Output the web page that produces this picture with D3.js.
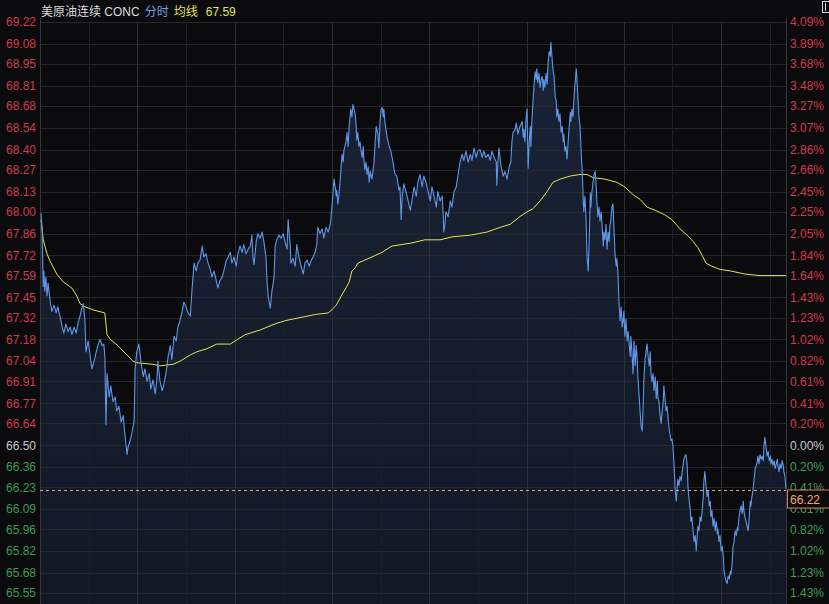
<!DOCTYPE html>
<html><head><meta charset="utf-8">
<script src="https://cdn.jsdelivr.net/npm/d3@7"></script>
<style>
html,body{margin:0;padding:0;background:#0b0b0d;overflow:hidden;}
svg{display:block;}
text{font-family:"Liberation Sans",Arial,"Noto Sans CJK SC",sans-serif;}
</style></head><body>
<svg id="chart" width="829" height="604"></svg>
<script>
// ---------- data ----------
const titleName = "美原油连续 CONC";
const titleMode = "分时";
const titleAvgLabel = "均线";
const avgLast = 67.59;
const prevClose = 66.50;
const lastPrice = 66.22;
const sessionMinutes = 1380;   // 23-hour session
const gridMinutes = 90;

const priceTicks = [69.22,69.08,68.95,68.81,68.68,68.54,68.40,68.27,68.13,68.00,67.86,67.72,67.59,67.45,67.32,67.18,67.04,66.91,66.77,66.64,66.50,66.36,66.23,66.09,65.96,65.82,65.68,65.55];
const pctLabels = ["4.09%","3.89%","3.68%","3.48%","3.27%","3.07%","2.86%","2.66%","2.45%","2.25%","2.05%","1.84%","1.64%","1.43%","1.23%","1.02%","0.82%","0.61%","0.41%","0.20%","0.00%","0.20%","0.41%","0.61%","0.82%","1.02%","1.23%","1.43%"];

// [minute of session, price]
const priceSeries = [
[2,67.99],[4,67.87],[6,67.52],[7,67.62],[9,67.49],[11,67.58],[13,67.46],[15,67.54],[19,67.42],[22,67.36],[26,67.40],[30,67.35],[33,67.39],[37,67.33],[41,67.26],[44,67.22],[48,67.28],[52,67.23],[56,67.26],[59,67.21],[63,67.26],[67,67.22],[70,67.28],[74,67.33],[78,67.39],[80,67.41],[83,67.31],[85,67.10],[89,67.17],[93,67.07],[96,66.99],[100,67.04],[104,67.10],[107,67.14],[111,67.18],[115,67.14],[118,67.15],[120,67.07],[122,66.63],[124,66.96],[128,66.81],[131,66.88],[135,66.78],[139,66.81],[142,66.72],[146,66.75],[150,66.65],[154,66.69],[157,66.57],[161,66.44],[163,66.49],[167,66.53],[170,66.58],[174,66.65],[176,66.99],[179,67.10],[183,67.15],[187,67.03],[191,66.94],[194,66.99],[198,66.91],[202,66.96],[205,66.86],[209,66.92],[213,66.83],[216,66.91],[218,67.04],[222,66.91],[226,66.85],[229,66.89],[233,66.96],[237,67.07],[241,67.14],[244,67.05],[248,67.20],[252,67.17],[255,67.26],[259,67.30],[263,67.36],[266,67.42],[270,67.39],[274,67.35],[278,67.33],[281,67.49],[283,67.58],[285,67.67],[289,67.62],[292,67.67],[296,67.69],[300,67.78],[303,67.71],[307,67.73],[311,67.67],[315,67.63],[318,67.58],[322,67.62],[326,67.56],[329,67.51],[333,67.56],[337,67.58],[340,67.62],[344,67.68],[348,67.71],[352,67.74],
[355,67.67],[359,67.71],[363,67.65],[366,67.73],[370,67.78],[374,67.74],[377,67.79],[381,67.73],[385,67.76],[389,67.78],[392,67.85],[394,67.71],[396,67.66],[400,67.81],[403,67.86],[407,67.83],[411,67.87],[414,67.81],[418,67.71],[420,67.55],[422,67.46],[426,67.38],[429,67.49],[433,67.58],[435,67.78],[438,67.82],[442,67.85],[446,67.83],[450,67.86],[453,67.81],[457,67.76],[459,67.95],[463,67.78],[464,67.67],[468,67.70],[472,67.65],[474,67.74],[475,67.79],[479,67.71],[483,67.65],[487,67.60],[490,67.67],[494,67.69],[498,67.65],[501,67.68],[505,67.71],[509,67.74],[512,67.79],[514,67.90],[518,67.86],[522,67.89],[525,67.83],[529,67.90],[533,67.87],[537,67.92],[538,67.95],[540,68.03],[542,68.13],[544,68.21],[546,68.16],[548,68.10],[549,68.14],[551,68.05],[553,68.11],[555,68.19],[557,68.29],[559,68.37],[561,68.32],[562,68.39],[566,68.45],[568,68.51],[570,68.42],[572,68.55],[574,68.63],[575,68.66],[577,68.61],[579,68.69],[581,68.66],[583,68.63],[585,68.55],[586,68.46],[588,68.51],[590,68.42],[592,68.45],[594,68.39],[596,68.35],[598,68.42],[599,68.34],[601,68.27],[603,68.32],[605,68.24],[607,68.29],[609,68.19],[611,68.26],[614,68.21],[618,68.32],[620,68.45],[622,68.55],[625,68.50],[627,68.41],[629,68.58],[631,68.66],[633,68.67],[635,68.61],[636,68.66],[638,68.58],[640,68.53],[642,68.48],[646,68.42],[649,68.39],[653,68.32],[655,68.27],[657,68.24],[660,68.23],[664,68.14],[666,68.16],[668,67.95],[670,68.10],[673,68.18],[677,68.13],[681,68.07],[685,68.01],[688,68.07],[692,68.16],[696,68.10],[699,68.19],[703,68.24],[707,68.16],[710,68.23],[714,68.19],[718,68.13],[722,68.07],[725,68.16],[729,68.10],[733,68.03],[736,68.13],[740,68.07],
[744,68.10],[746,67.97],[747,67.87],[749,67.92],[751,68.00],[755,67.97],[759,68.07],[762,68.03],[766,68.13],[770,68.16],[773,68.23],[777,68.32],[781,68.37],[784,68.33],[788,68.39],[792,68.32],[796,68.37],[799,68.33],[803,68.41],[807,68.35],[810,68.39],[814,68.40],[818,68.35],[821,68.39],[825,68.35],[829,68.37],[833,68.33],[836,68.39],[840,68.35],[844,68.32],[845,68.17],[847,68.32],[849,68.41],[853,68.29],[857,68.23],[860,68.26],[864,68.21],[868,68.29],[871,68.32],[873,68.45],[875,68.51],[879,68.53],[881,68.57],[884,68.50],
[888,68.55],[892,68.58],[894,68.48],[895,68.53],[897,68.45],[899,68.59],[901,68.66],[903,68.28],[905,68.45],[907,68.55],[908,68.42],[910,68.59],[912,68.71],[914,68.82],[916,68.90],[918,68.85],[919,68.92],[921,68.83],[923,68.89],[925,68.80],[927,68.85],[929,68.87],[931,68.78],[932,68.85],[934,68.80],[936,68.89],[938,68.82],[940,68.96],[942,69.03],[944,69.00],[945,69.09],[947,69.00],[949,68.91],[951,68.87],[953,68.74],[955,68.71],[956,68.61],[958,68.66],[960,68.58],[962,68.63],[964,68.51],[966,68.55],[968,68.45],[969,68.50],[971,68.39],[973,68.42],[975,68.34],[977,68.45],[979,68.55],[981,68.64],[982,68.58],[984,68.66],[986,68.61],[988,68.74],[990,68.83],[992,68.92],[993,68.87],[995,68.74],[997,68.61],[999,68.55],
[1001,68.39],[1003,68.26],[1005,68.07],[1006,68.00],[1008,68.10],[1010,67.97],[1012,67.71],[1014,67.62],[1016,67.81],[1018,68.12],[1019,68.03],[1021,68.13],[1023,68.19],[1025,68.24],[1027,68.26],[1029,68.16],[1030,68.07],[1032,67.97],[1034,68.03],[1036,67.94],[1038,68.00],[1040,67.90],[1042,67.78],[1043,67.87],[1045,67.82],[1047,67.92],[1049,67.76],[1051,67.87],[1053,67.81],[1054,67.90],[1056,67.95],[1058,68.03],[1060,68.05],[1062,67.87],[1064,67.71],[1066,67.65],[1067,67.70],[1069,67.62],[1071,67.42],[1073,67.30],[1075,67.39],[1077,67.26],[1079,67.31],[1080,67.36],[1082,67.20],[1084,67.31],[1086,67.17],[1088,67.23],[1090,67.14],[1092,67.07],[1093,67.20],[1095,67.10],[1097,66.96],[1099,67.17],[1101,67.01],[1103,67.14],[1105,67.04],[1106,66.94],[1108,66.83],[1110,66.72],[1112,66.62],[1114,66.59],[1116,66.78],[1117,66.91],[1119,67.04],[1121,67.10],[1123,67.15],[1125,67.07],[1127,67.01],[1129,67.10],[1130,66.97],[1132,66.91],[1134,66.96],[1136,66.85],[1138,66.94],[1140,66.80],[1142,66.91],[1143,66.81],[1145,66.78],[1147,66.69],[1149,66.64],[1151,66.72],[1153,66.78],[1154,66.88],[1156,66.81],[1158,66.72],[1160,66.75],[1162,66.67],[1164,66.60],[1166,66.56],[1167,66.53],[1169,66.54],[1171,66.49],[1173,66.37],[1175,66.21],[1177,66.14],[1179,66.24],[1180,66.28],[1182,66.24],[1184,66.30],[1186,66.27],[1188,66.33],[1190,66.38],[1191,66.41],[1193,66.43],[1195,66.44],[1197,66.38],[1199,66.21],
[1201,66.14],[1203,66.08],[1204,66.01],[1206,66.04],[1208,65.95],[1210,65.88],[1212,65.92],[1214,65.82],[1215,65.88],[1217,65.98],[1219,65.95],[1221,66.04],[1223,66.01],[1225,66.08],[1227,66.17],[1228,66.27],[1230,66.33],[1232,66.24],[1234,66.17],[1236,66.21],[1238,66.11],[1240,66.14],[1241,66.04],[1243,66.08],[1245,65.98],[1247,66.03],[1249,65.95],[1251,66.01],[1253,65.93],[1254,65.96],[1256,65.88],[1258,65.92],[1260,65.82],[1262,65.85],[1264,65.79],[1265,65.70],[1267,65.66],[1269,65.63],[1271,65.61],[1273,65.66],[1275,65.64],[1277,65.69],[1278,65.67],[1280,65.72],[1282,65.85],[1284,65.88],[1286,65.95],[1288,65.92],[1290,65.97],[1291,65.95],[1293,66.04],[1295,66.08],[1297,66.11],[1299,66.06],[1301,66.14],[1302,66.08],[1304,66.04],[1306,66.01],[1308,65.98],[1310,65.95],[1312,66.04],[1314,66.14],[1315,66.11],[1317,66.17],[1319,66.21],[1321,66.28],[1323,66.35],[1325,66.37],[1327,66.40],[1328,66.43],[1330,66.38],[1332,66.44],[1334,66.41],[1336,66.43],[1338,66.40],[1339,66.49],[1341,66.55],[1343,66.49],[1345,66.43],[1347,66.46],[1349,66.40],[1351,66.43],[1352,66.38],[1354,66.41],[1356,66.37],[1358,66.40],[1360,66.35],[1362,66.38],[1364,66.41],[1365,66.37],[1367,66.33],[1369,66.38],[1371,66.35],[1373,66.40],[1375,66.37],[1376,66.33],[1378,66.30],[1380,66.22]
];

// [minute of session, average price]
const avgSeries = [
[2,67.95],[6,67.82],[13,67.73],[19,67.68],[31,67.60],[43,67.55],[59,67.51],[68,67.46],[74,67.41],[83,67.39],[98,67.37],[120,67.35],[124,67.21],[130,67.18],[144,67.14],[161,67.08],[172,67.04],[179,67.03],[209,67.02],[222,67.01],[246,67.02],[259,67.04],[278,67.08],[290,67.10],[309,67.12],[327,67.15],[352,67.15],[379,67.21],[407,67.24],[435,67.28],[453,67.30],[481,67.32],[509,67.34],[533,67.35],[540,67.37],[548,67.40],[559,67.47],[566,67.51],[572,67.55],[577,67.62],[583,67.64],[588,67.67],[601,67.69],[614,67.71],[633,67.74],[651,67.78],[670,67.79],[688,67.80],[712,67.82],[740,67.82],[764,67.84],[796,67.85],[827,67.87],[851,67.90],[870,67.92],[888,67.97],[901,68.00],[912,68.02],[925,68.07],[938,68.13],[949,68.19],[962,68.21],[981,68.23],[999,68.24],[1012,68.24],[1023,68.22],[1045,68.21],[1067,68.19],[1082,68.16],[1097,68.11],[1110,68.08],[1123,68.03],[1138,68.01],[1156,67.98],[1169,67.95],[1184,67.89],[1197,67.85],[1208,67.81],[1217,67.77],[1225,67.72],[1232,67.67],[1243,67.65],[1258,67.63],[1277,67.62],[1304,67.60],[1332,67.59],[1380,67.59]
];

// ---------- drawing ----------
const W = 829, H = 604;
const L = 40, R = 786, T = 22, B = 604;
const svg = d3.select("#chart");

const x = d3.scaleLinear().domain([0, sessionMinutes]).range([L, R]);
const y = d3.scaleLinear()
  .domain([d3.min(priceTicks), d3.max(priceTicks)])
  .range([593, 22]);
const crisp = v => Math.round(v) + 0.5;

const RED = "#d23a4c", GREEN = "#3d9c55", NEUTRAL = "#c8c8c8";
const tickColor = v => Math.abs(v - prevClose) < 1e-6 ? NEUTRAL : (v > prevClose ? RED : GREEN);

svg.append("rect").attr("width", W).attr("height", H).attr("fill", "#0b0b0d");

// area gradient
const defs = svg.append("defs");
const grad = defs.append("linearGradient").attr("id", "fillGrad")
  .attr("x1", 0).attr("y1", 0).attr("x2", 0).attr("y2", 1);
grad.append("stop").attr("offset", "0%").attr("stop-color", "#4a78c8").attr("stop-opacity", 0.22);
grad.append("stop").attr("offset", "100%").attr("stop-color", "#2e4c88").attr("stop-opacity", 0.2);

const area = d3.area()
  .x(d => x(d[0])).y0(B).y1(d => y(d[1]));
svg.append("path").datum(priceSeries).attr("d", area).attr("fill", "url(#fillGrad)");

// horizontal grid
svg.append("g").selectAll("line").data(priceTicks).join("line")
  .attr("x1", L).attr("x2", R)
  .attr("y1", d => crisp(y(d))).attr("y2", d => crisp(y(d)))
  .attr("stroke", "#25272d").attr("stroke-width", 1);

// vertical grid
const vTicks = d3.range(gridMinutes, sessionMinutes, gridMinutes);
svg.append("g").selectAll("line").data(vTicks).join("line")
  .attr("x1", d => crisp(x(d))).attr("x2", d => crisp(x(d)))
  .attr("y1", T).attr("y2", B)
  .attr("stroke", d => (d % (gridMinutes * 2) === 0) ? "#2c2f36" : "#1d1f24")
  .attr("stroke-width", 1);

// borders
svg.append("line").attr("x1", L + 0.5).attr("x2", L + 0.5).attr("y1", T - 4).attr("y2", B)
  .attr("stroke", "#34363c");
svg.append("line").attr("x1", R + 0.5).attr("x2", R + 0.5).attr("y1", T - 4).attr("y2", B)
  .attr("stroke", "#34363c");

// average line
const line = d3.line().x(d => x(d[0])).y(d => y(d[1]));
svg.append("path").datum(avgSeries).attr("d", line)
  .attr("fill", "none").attr("stroke", "#e4e457").attr("stroke-width", 1);

// price line
svg.append("path").datum(priceSeries).attr("d", line)
  .attr("fill", "none").attr("stroke", "#5e96e8").attr("stroke-width", 1.1)
  .attr("stroke-linejoin", "round");

// last price dashed line
const yLast = crisp(y(lastPrice)) + 1;
svg.append("line").attr("x1", L).attr("x2", R).attr("y1", yLast).attr("y2", yLast)
  .attr("stroke", "#e9a57a").attr("stroke-dasharray", "3,3").attr("stroke-width", 1);

// left labels
svg.append("g").selectAll("text").data(priceTicks).join("text")
  .attr("x", 36).attr("y", d => y(d)).attr("dy", "0.36em")
  .attr("text-anchor", "end").attr("font-size", 12)
  .attr("fill", d => tickColor(d))
  .text(d => d.toFixed(2));

// right labels
svg.append("g").selectAll("text").data(pctLabels).join("text")
  .attr("x", 790).attr("y", (d, i) => y(priceTicks[i])).attr("dy", "0.36em")
  .attr("text-anchor", "start").attr("font-size", 12)
  .attr("fill", (d, i) => tickColor(priceTicks[i]))
  .text(d => d);

// last price box
svg.append("rect").attr("x", 787.5).attr("y", yLast - 0.5).attr("width", 50).attr("height", 18)
  .attr("fill", "#0b0b0d").attr("stroke", "#dc7a5e").attr("stroke-width", 1);
svg.append("text").attr("x", 790).attr("y", yLast + 13.5)
  .attr("font-size", 12).attr("fill", "#f0a878").text(lastPrice.toFixed(2));

// title
const title = svg.append("text").attr("x", 41).attr("y", 16).attr("font-size", 12);
title.append("tspan").attr("fill", "#dcdcdc").text(titleName);
title.append("tspan").attr("dx", 5).attr("fill", "#6f9fe6").text(titleMode);
title.append("tspan").attr("dx", 5).attr("fill", "#e2e25a").text(titleAvgLabel);
title.append("tspan").attr("dx", 8).attr("fill", "#e2e25a").text(avgLast.toFixed(2));

// top-right icon
svg.append("rect").attr("x", 822.5).attr("y", 1.5).attr("width", 7).attr("height", 11)
  .attr("fill", "none").attr("stroke", "#d8d8d8");
svg.append("line").attr("x1", 825.5).attr("x2", 825.5).attr("y1", 3).attr("y2", 11)
  .attr("stroke", "#d8d8d8");
</script>
</body></html>
